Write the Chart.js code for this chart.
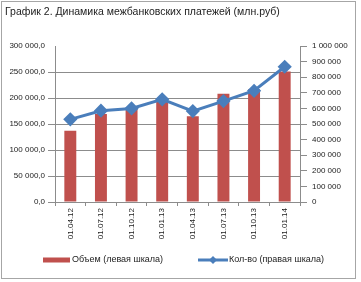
<!DOCTYPE html>
<html>
<head>
<meta charset="utf-8">
<script src="https://cdn.jsdelivr.net/npm/chart.js@4/dist/chart.umd.min.js"></script>
<style>
  body { margin: 0; background: #fff; }
  #wrap { position: relative; width: 361px; height: 282px; }
  #frame { position: absolute; left: 1px; top: 1px; width: 353px; height: 276px; border: 1px solid #a6a6a6; pointer-events: none; }
  #title { position: absolute; left: 5px; top: 5px; font: 10.5px "Liberation Sans", Arial, sans-serif; color: #222; white-space: nowrap; }
  canvas { position: absolute; left: 0; top: 0; }
</style>
</head>
<body>
<div id="wrap">
  <canvas id="chart" width="361" height="282"></canvas>
  <div id="title">График 2. Динамика межбанковских платежей (млн.руб)</div>
  <div id="frame"></div>
</div>
<script>
// data
const dates = ["01.04.12", "01.07.12", "01.10.12", "01.01.13", "01.04.13", "01.07.13", "01.10.13", "01.01.14"];
const volume = [137000, 169000, 180000, 193000, 165000, 208000, 217000, 251000]; // left axis
const count = [530000, 585000, 600000, 658000, 583000, 647000, 713000, 867000]; // right axis
const volumeLabel = "Объем (левая шкала)";
const countLabel = "Кол-во (правая шкала)";

const red = "#c0504d";
const blue = "#4a7ebb";
const gray = "#8c8c8c";
const font = { family: "'Liberation Sans', Arial, sans-serif", size: 8 };

// group thousands with spaces
function fmt(v, decimals) {
  let s = Math.round(v).toString().replace(/\B(?=(\d{3})+(?!\d))/g, " ");
  return decimals ? s + ",0" : s;
}

// legend drawn by hand: box for bars, line with diamond for the line series
const legendPlugin = {
  id: "customLegend",
  afterDraw(chart) {
    const ctx = chart.ctx;
    const y = 260;
    ctx.save();
    ctx.font = "9px 'Liberation Sans', Arial, sans-serif";
    ctx.textBaseline = "middle";

    const bar = chart.data.datasets[1];
    ctx.fillStyle = bar.backgroundColor;
    ctx.fillRect(43, y - 2.5, 27, 5);
    ctx.fillStyle = "#222";
    ctx.fillText(bar.label, 72, y);

    const line = chart.data.datasets[0];
    ctx.strokeStyle = line.borderColor;
    ctx.lineWidth = 3;
    ctx.beginPath();
    ctx.moveTo(198, y);
    ctx.lineTo(228, y);
    ctx.stroke();
    ctx.fillStyle = line.borderColor;
    ctx.beginPath();
    ctx.moveTo(213, y - 4);
    ctx.lineTo(217, y);
    ctx.lineTo(213, y + 4);
    ctx.lineTo(209, y);
    ctx.closePath();
    ctx.fill();
    ctx.fillStyle = "#222";
    ctx.fillText(line.label, 229, y);
    ctx.restore();
  }
};

new Chart(document.getElementById("chart"), {
  type: "bar",
  data: {
    labels: dates,
    datasets: [
      {
        type: "line",
        label: countLabel,
        data: count,
        yAxisID: "y1",
        borderColor: blue,
        backgroundColor: blue,
        borderWidth: 3,
        pointStyle: "rectRot",
        pointRadius: 5,
        pointBackgroundColor: blue,
        pointBorderColor: blue,
        tension: 0,
        order: 0
      },
      {
        label: volumeLabel,
        data: volume,
        yAxisID: "y",
        backgroundColor: red,
        barPercentage: 0.39,
        categoryPercentage: 1,
        order: 1
      }
    ]
  },
  plugins: [legendPlugin],
  options: {
    responsive: false,
    animation: false,
    layout: { padding: { top: 46, bottom: 0, left: 0, right: 5 } },
    plugins: {
      legend: { display: false },
      tooltip: { enabled: false },
      title: { display: false }
    },
    scales: {
      x: {
        afterFit: (s) => { s.height = 80; },
        grid: { display: true, drawOnChartArea: false, offset: true, color: gray, tickLength: 4 },
        border: { color: gray },
        ticks: { font: font, color: "#222", minRotation: 90, maxRotation: 90, padding: 2 }
      },
      y: {
        position: "left",
        min: 0,
        max: 300000,
        afterFit: (s) => { s.width = 55; },
        // no gridline along the top edge of the plot
        grid: {
          color: gray,
          lineWidth: (c) => (c.tick && c.tick.value >= 300000 ? 0 : 1),
          tickLength: 7
        },
        border: { color: gray },
        ticks: { stepSize: 50000, font: font, color: "#222", padding: 3, callback: (v) => fmt(v, true) }
      },
      y1: {
        position: "right",
        min: 0,
        max: 1000000,
        afterFit: (s) => { s.width = 56; },
        grid: { drawOnChartArea: false, color: gray, tickLength: 7 },
        border: { color: gray },
        ticks: { stepSize: 100000, font: font, color: "#222", padding: 5, callback: (v) => fmt(v, false) }
      }
    }
  }
});
</script>
</body>
</html>
